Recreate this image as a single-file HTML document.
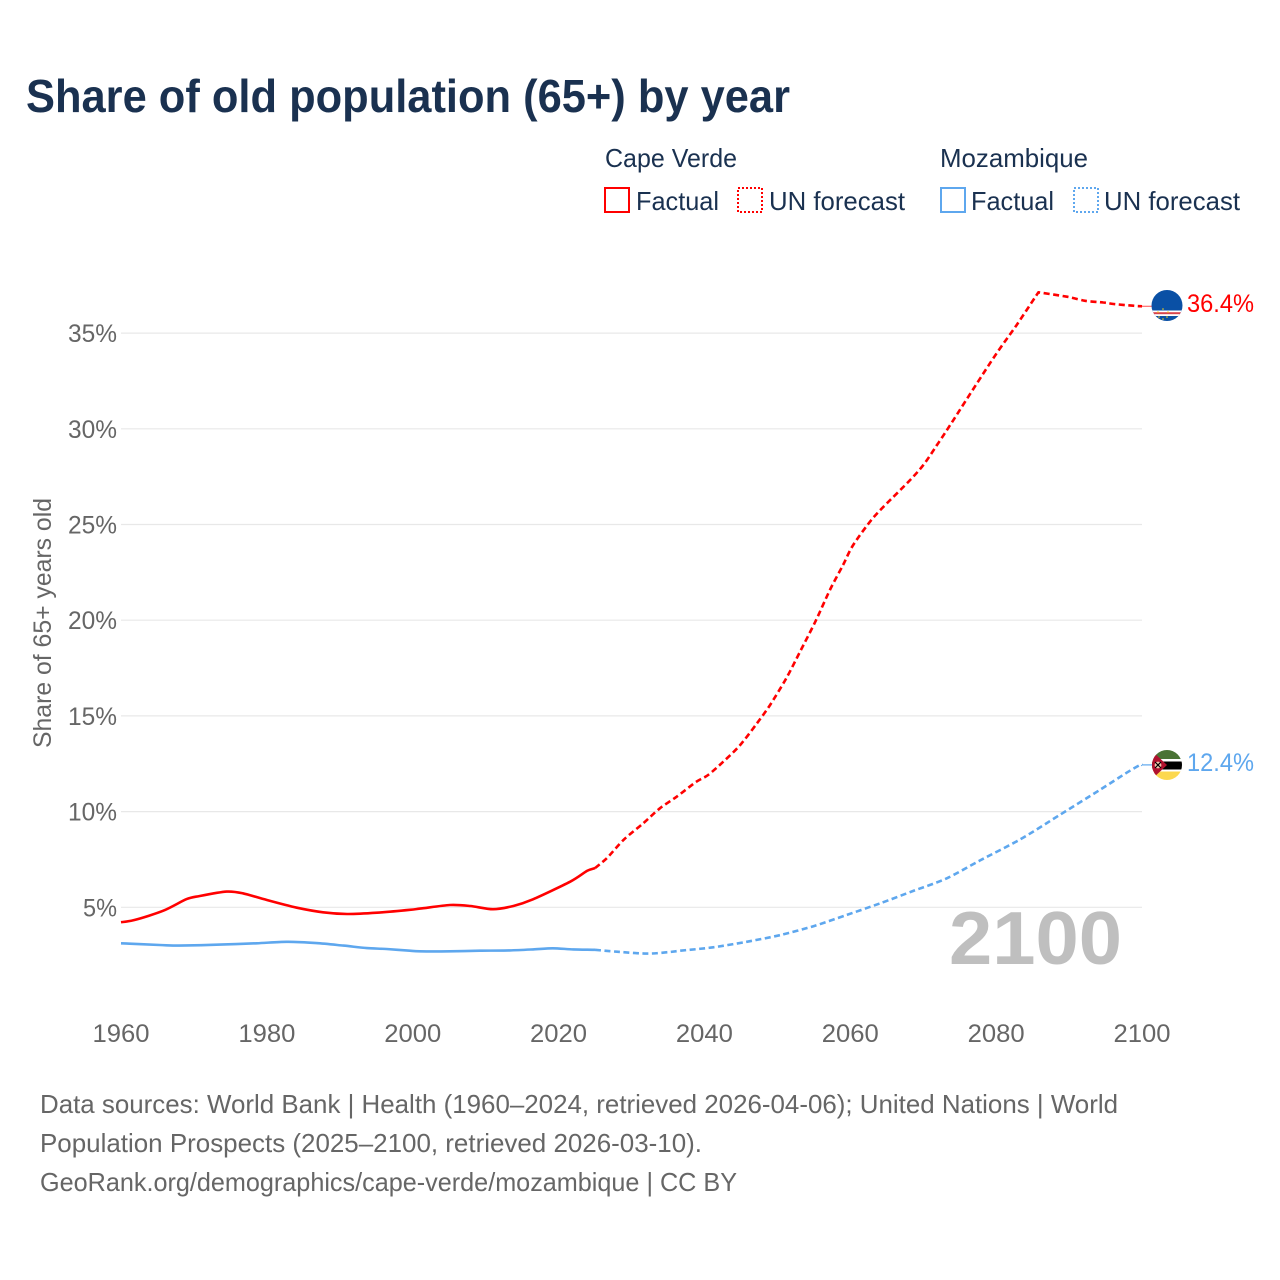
<!DOCTYPE html>
<html lang="en">
<head>
<meta charset="utf-8">
<title>Share of old population (65+) by year</title>
<style>
html,body{margin:0;padding:0;background:#fff;width:1280px;height:1280px;overflow:hidden}
svg{display:block}
text{font-family:"Liberation Sans",sans-serif}
.dark{fill:#1a3150}
.grey{fill:#666666}
</style>
</head>
<body>
<svg id="chart" width="1280" height="1280" viewBox="0 0 1280 1280" xmlns="http://www.w3.org/2000/svg">
  <defs>
    <clipPath id="clip-cv"><circle cx="1167" cy="305.5" r="15.5"/></clipPath>
    <clipPath id="clip-mz"><circle cx="1167" cy="765" r="15"/></clipPath>
  </defs>
  <text class="dark" x="26" y="112" font-size="46" font-weight="700" textLength="764" lengthAdjust="spacingAndGlyphs">Share of old population (65+) by year</text>

  <g>
    <text class="dark" x="605" y="167" font-size="26" textLength="132" lengthAdjust="spacingAndGlyphs">Cape Verde</text>
    <text class="dark" x="940" y="167" font-size="26" textLength="148" lengthAdjust="spacingAndGlyphs">Mozambique</text>
    <rect x="605" y="188" width="24" height="24" fill="none" stroke="#ff0000" stroke-width="2"/>
    <text class="dark" x="636" y="210" font-size="26" textLength="83" lengthAdjust="spacingAndGlyphs">Factual</text>
    <rect x="738" y="188" width="24" height="24" fill="none" stroke="#ff0000" stroke-width="2" stroke-dasharray="2 2"/>
    <text class="dark" x="769" y="210" font-size="26" textLength="136" lengthAdjust="spacingAndGlyphs">UN forecast</text>
    <rect x="941" y="188" width="24" height="24" fill="none" stroke="#5ea7ee" stroke-width="2"/>
    <text class="dark" x="971" y="210" font-size="26" textLength="83" lengthAdjust="spacingAndGlyphs">Factual</text>
    <rect x="1074" y="188" width="24" height="24" fill="none" stroke="#5ea7ee" stroke-width="2" stroke-dasharray="2 2"/>
    <text class="dark" x="1104" y="210" font-size="26" textLength="136" lengthAdjust="spacingAndGlyphs">UN forecast</text>
  </g>

  <g id="grid"></g>
  <g id="y-ticks"></g>
  <g id="x-ticks"></g>
  <text class="grey" transform="translate(51,748) rotate(-90)" x="0" y="0" font-size="25" textLength="250" lengthAdjust="spacingAndGlyphs">Share of 65+ years old</text>
  <text x="949" y="964" font-size="75" font-weight="700" fill="#bfbfbf" textLength="173" lengthAdjust="spacingAndGlyphs">2100</text>
  <g id="series"></g>

  <g clip-path="url(#clip-cv)">
    <rect x="1150" y="288" width="34" height="36" fill="#0a50a5"/>
    <rect x="1150" y="310.5" width="34" height="5.5" fill="#ffffff"/>
    <rect x="1150" y="312.2" width="34" height="2" fill="#d8444c"/>
    <circle cx="1163" cy="309" r="0.8" fill="#f7d117"/>
    <circle cx="1158" cy="312" r="0.8" fill="#f7d117"/>
    <circle cx="1168" cy="312" r="0.8" fill="#f7d117"/>
    <circle cx="1159" cy="317" r="0.8" fill="#f7d117"/>
    <circle cx="1167" cy="317" r="0.8" fill="#f7d117"/>
    <circle cx="1163" cy="319" r="0.8" fill="#f7d117"/>
  </g>
  <g clip-path="url(#clip-mz)">
    <rect x="1150" y="748" width="34" height="11" fill="#4a7335"/>
    <rect x="1150" y="759" width="34" height="13" fill="#ffffff"/>
    <rect x="1150" y="761.5" width="34" height="8" fill="#000000"/>
    <rect x="1150" y="771.5" width="34" height="12" fill="#fcd84f"/>
    <polygon points="1150,749 1167,765 1150,781" fill="#b0122f"/>
    <circle cx="1158" cy="765" r="3.4" fill="#f1c9b0"/>
    <path d="M1155 762 L1161 768 M1161 762 L1155 768" stroke="#000" stroke-width="1.2"/>
  </g>

  <text x="1187" y="312" font-size="25" fill="#ff0000" textLength="67" lengthAdjust="spacingAndGlyphs">36.4%</text>
  <text x="1187" y="771" font-size="25" fill="#5ea7ee" textLength="67" lengthAdjust="spacingAndGlyphs">12.4%</text>

  <g>
    <text class="grey" x="40" y="1113" font-size="26" textLength="1078" lengthAdjust="spacingAndGlyphs">Data sources: World Bank | Health (1960–2024, retrieved 2026-04-06); United Nations | World</text>
    <text class="grey" x="40" y="1152" font-size="26" textLength="662" lengthAdjust="spacingAndGlyphs">Population Prospects (2025–2100, retrieved 2026-03-10).</text>
    <text class="grey" x="40" y="1191" font-size="26" textLength="697" lengthAdjust="spacingAndGlyphs">GeoRank.org/demographics/cape-verde/mozambique | CC BY</text>
  </g>
</svg>
<script>
const yTickValues = [5, 10, 15, 20, 25, 30, 35];
const yTickLabels = ["5%", "10%", "15%", "20%", "25%", "30%", "35%"];
const xTickYears = [1960, 1980, 2000, 2020, 2040, 2060, 2080, 2100];

const capeVerdeFactualYears = [1960, 1961.9, 1965.8, 1969, 1970.8, 1974.5, 1976.7, 1980, 1984.1, 1987.7, 1991, 1995.1, 1999.6, 2001, 2005.1, 2007.9, 2011, 2013.8, 2016.5, 2021.6, 2023.9, 2025];
const capeVerdeFactualValues = [4.22, 4.34, 4.82, 5.43, 5.59, 5.82, 5.73, 5.38, 4.98, 4.74, 4.65, 4.72, 4.87, 4.93, 5.12, 5.07, 4.9, 5.07, 5.42, 6.34, 6.9, 7.05];
const capeVerdeForecastYears = [2025, 2026.6, 2028.9, 2031.6, 2033.9, 2036.2, 2038.9, 2040.5, 2042.6, 2044.9, 2047.2, 2049, 2051.2, 2053.1, 2055.2, 2057.2, 2059, 2060.4, 2062.9, 2065, 2068, 2070, 2071.8, 2073.7, 2079.6, 2082.8, 2085.8, 2089.7, 2092.2, 2094.7, 2096.1, 2098.8, 2100];
const capeVerdeForecastValues = [7.05, 7.56, 8.52, 9.39, 10.17, 10.78, 11.56, 11.91, 12.61, 13.48, 14.61, 15.57, 16.95, 18.35, 19.92, 21.58, 22.88, 23.93, 25.24, 26.1, 27.24, 28.1, 29.1, 30.2, 33.68, 35.42, 37.13, 36.9, 36.69, 36.6, 36.52, 36.43, 36.4];

const mozambiqueFactualYears = [1960, 1965.3, 1968, 1973.6, 1978.6, 1982.7, 1986.8, 1990.5, 1993.7, 1996.4, 1999.6, 2001, 2005.1, 2009.2, 2013.3, 2016.5, 2019.2, 2022, 2025];
const mozambiqueFactualValues = [3.12, 3.03, 3.0, 3.05, 3.12, 3.2, 3.13, 3.0, 2.87, 2.82, 2.73, 2.7, 2.7, 2.73, 2.75, 2.8, 2.86, 2.8, 2.78];
const mozambiqueForecastYears = [2025, 2028, 2032.1, 2034.8, 2036.7, 2041.2, 2045.8, 2050.4, 2055, 2059.5, 2064.1, 2068.6, 2073.2, 2077.8, 2083.3, 2088.7, 2094.2, 2097.9, 2099.7, 2100];
const mozambiqueForecastValues = [2.78, 2.68, 2.58, 2.65, 2.73, 2.91, 3.2, 3.55, 4.02, 4.6, 5.21, 5.85, 6.51, 7.45, 8.55, 9.82, 11.13, 12.03, 12.43, 12.44];

const SVGNS = "http://www.w3.org/2000/svg";
const xScale = function (year) { return 121 + (year - 1960) * (1142 - 121) / 140; };
const yScale = function (v) { return 907.3 - (v - 5) * 19.14; };

const gridGroup = document.getElementById("grid");
const yTickGroup = document.getElementById("y-ticks");
const xTickGroup = document.getElementById("x-ticks");
const seriesGroup = document.getElementById("series");

yTickValues.forEach(function (v, i) {
  const line = document.createElementNS(SVGNS, "line");
  
  
  line.setAttribute("x1", xScale(1960));
  line.setAttribute("x2", xScale(2100));
  line.setAttribute("y1", yScale(v));
  line.setAttribute("y2", yScale(v));
  line.setAttribute("stroke", "#e8e8e8");
  line.setAttribute("stroke-width", "1.2");
  gridGroup.appendChild(line);

  const label = document.createElementNS(SVGNS, "text");
  
  
  const w = yTickLabels[i].length === 2 ? 34 : 49;
  label.setAttribute("x", 117 - w);
  label.setAttribute("y", yScale(v) + 9);
  label.setAttribute("font-size", "25");
  label.setAttribute("class", "grey");
  label.setAttribute("textLength", w);
  label.setAttribute("lengthAdjust", "spacingAndGlyphs");
  label.textContent = yTickLabels[i];
  yTickGroup.appendChild(label);
});

xTickYears.forEach(function (year) {
  const label = document.createElementNS(SVGNS, "text");
  
  
  label.setAttribute("x", xScale(year) - 28.5);
  label.setAttribute("y", 1042);
  label.setAttribute("font-size", "25");
  label.setAttribute("class", "grey");
  label.setAttribute("textLength", "57");
  label.setAttribute("lengthAdjust", "spacingAndGlyphs");
  label.textContent = year;
  xTickGroup.appendChild(label);
});

function isCorner(a, b, c) {
  const ux = b[0] - a[0];
  const uy = b[1] - a[1];
  const vx = c[0] - b[0];
  const vy = c[1] - b[1];
  const denom = Math.hypot(ux, uy) * Math.hypot(vx, vy);
  return denom > 0 && (ux * vx + uy * vy) / denom < 0.6;
}

function smoothPath(years, values) {
  const pts = years.map(function (year, i) {
    return [xScale(year), yScale(values[i])];
  });
  const k = 1 / 7;
  const tangents = pts.map(function (p, i) {
    const prev = pts[Math.max(i - 1, 0)];
    const next = pts[Math.min(i + 1, pts.length - 1)];
    if (i > 0 && i < pts.length - 1 && isCorner(prev, p, next)) {
      return [0, 0];
    }
    return [(next[0] - prev[0]) * k, (next[1] - prev[1]) * k];
  });
  let d = "M" + pts[0][0].toFixed(1) + " " + pts[0][1].toFixed(1);
  for (let i = 0; i < pts.length - 1; i++) {
    const p1 = pts[i];
    const p2 = pts[i + 1];
    const c1x = p1[0] + tangents[i][0];
    const c1y = p1[1] + tangents[i][1];
    const c2x = p2[0] - tangents[i + 1][0];
    const c2y = p2[1] - tangents[i + 1][1];
    d += "C" + c1x.toFixed(1) + " " + c1y.toFixed(1) + " " + c2x.toFixed(1) + " " + c2y.toFixed(1) + " " + p2[0].toFixed(1) + " " + p2[1].toFixed(1);
  }
  return d;
}

function addLine(el, years, values, color, dash) {
  el.setAttribute("d", smoothPath(years, values));
  el.setAttribute("fill", "none");
  el.setAttribute("stroke", color);
  el.setAttribute("stroke-width", "2.6");
  el.setAttribute("stroke-linejoin", "round");
  if (dash) { el.setAttribute("stroke-dasharray", dash); }
  seriesGroup.appendChild(el);
}

const blueFactual = document.createElementNS(SVGNS, "path");


addLine(blueFactual, mozambiqueFactualYears, mozambiqueFactualValues, "#5ea7ee", null);

const blueForecast = document.createElementNS(SVGNS, "path");


addLine(blueForecast, mozambiqueForecastYears, mozambiqueForecastValues, "#5ea7ee", "6 3.5");

const redFactual = document.createElementNS(SVGNS, "path");


addLine(redFactual, capeVerdeFactualYears, capeVerdeFactualValues, "#ff0000", null);

const redForecast = document.createElementNS(SVGNS, "path");


addLine(redForecast, capeVerdeForecastYears, capeVerdeForecastValues, "#ff0000", "6 3.5");

const redConnector = document.createElementNS(SVGNS, "line");


const redEnd = capeVerdeForecastValues[capeVerdeForecastValues.length - 1];
redConnector.setAttribute("x1", xScale(2100));
redConnector.setAttribute("x2", xScale(2100) + 10);
redConnector.setAttribute("y1", yScale(redEnd));
redConnector.setAttribute("y2", yScale(redEnd));
redConnector.setAttribute("stroke", "#ff6a6a");
redConnector.setAttribute("stroke-width", "1.2");
seriesGroup.appendChild(redConnector);

const blueConnector = document.createElementNS(SVGNS, "line");


const blueEnd = mozambiqueForecastValues[mozambiqueForecastValues.length - 1];
blueConnector.setAttribute("x1", xScale(2100));
blueConnector.setAttribute("x2", xScale(2100) + 10);
blueConnector.setAttribute("y1", yScale(blueEnd));
blueConnector.setAttribute("y2", yScale(blueEnd));
blueConnector.setAttribute("stroke", "#5ea7ee");
blueConnector.setAttribute("stroke-width", "1.2");
seriesGroup.appendChild(blueConnector);
</script>
</body>
</html>
